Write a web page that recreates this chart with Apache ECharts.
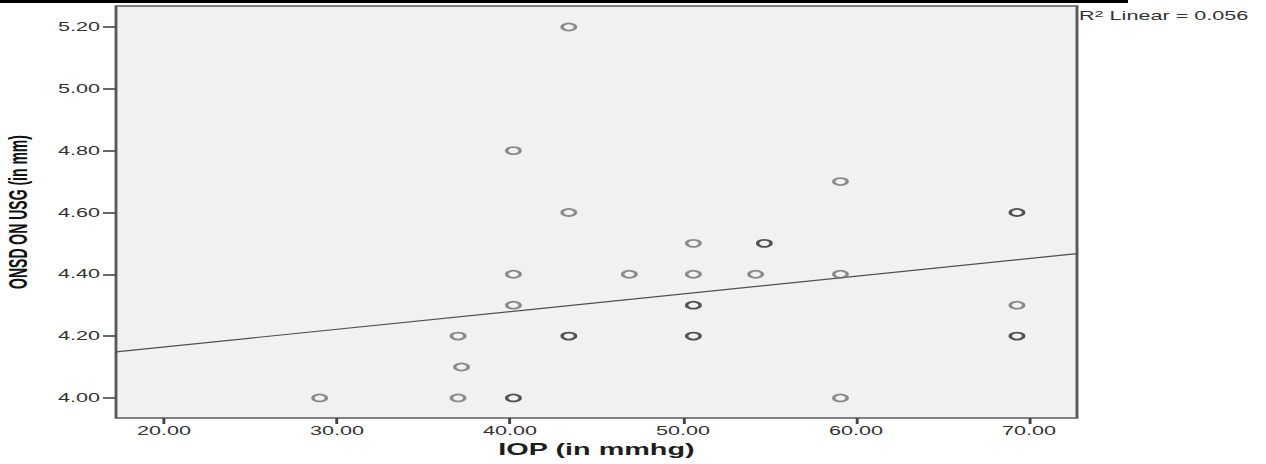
<!DOCTYPE html>
<html>
<head>
<meta charset="utf-8">
<script src="https://cdn.jsdelivr.net/npm/echarts@6/dist/echarts.min.js"></script>
<style>
  html, body { margin: 0; padding: 0; background: #fff; overflow: hidden; }
  /* the reference picture is stretched sideways, so the chart is drawn narrow and widened */
  #chart { width: 703px; height: 464px; transform: scaleX(1.80085); transform-origin: 0 0; }
</style>
</head>
<body>
<div id="chart"></div>
<script>
// ticks
const xTicks = [20, 30, 40, 50, 60, 70];
const yTicks = [4.0, 4.2, 4.4, 4.6, 4.8, 5.0, 5.2];

// single observations [IOP, ONSD]
const singlePoints = [
  [29.0, 4.0], [37.0, 4.2], [37.2, 4.1], [37.0, 4.0],
  [40.2, 4.8], [40.2, 4.4], [40.2, 4.3],
  [43.4, 5.2], [43.4, 4.6],
  [46.9, 4.4], [50.6, 4.5], [50.6, 4.4], [54.2, 4.4],
  [59.1, 4.7], [59.1, 4.4], [59.1, 4.0],
  [69.3, 4.3]
];
// overlapping observations (drawn darker)
const repeatedPoints = [
  [40.2, 4.0], [43.4, 4.2], [50.6, 4.3], [50.6, 4.2],
  [54.7, 4.5], [69.3, 4.6], [69.3, 4.2]
];
// fit line end points
const fitLine = [[17.23, 4.149], [72.77, 4.467]];

const S = 1266 / 703; // horizontal stretch

const chart = echarts.init(document.getElementById('chart'), null, { renderer: 'svg' });

const option = {
  backgroundColor: '#ffffff',
  animation: false,
  grid: {
    left: 116 / S, right: 189 / S, top: 6, bottom: 46,
    outerBoundsMode: 'none',
    show: true,
    backgroundColor: '#f1f1f1',
    borderColor: '#595959',
    borderWidth: 1.6
  },
  xAxis: {
    type: 'value',
    min: 17.23,
    max: 72.77,
    name: 'IOP (in mmhg)',
    nameLocation: 'middle',
    nameGap: 22,
    nameTextStyle: { fontFamily: 'Liberation Sans', fontWeight: 'bold', fontSize: 16, color: '#1e1e1e' },
    axisLine: { show: false },
    splitLine: { show: false },
    axisTick: { show: true, length: 6, customValues: xTicks, lineStyle: { color: '#444', width: 1.6 } },
    axisLabel: {
      customValues: xTicks,
      formatter: v => v.toFixed(2),
      fontFamily: 'Liberation Sans', fontSize: 12, color: '#333', margin: 7
    }
  },
  yAxis: {
    type: 'value',
    min: 3.935,
    max: 5.268,
    name: 'ONSD ON USG (in mm)',
    nameLocation: 'middle',
    nameGap: 47,
    nameTextStyle: { fontFamily: 'Liberation Sans', fontWeight: 'bold', fontSize: 14, color: '#111' },
    axisLine: { show: false },
    splitLine: { show: false },
    axisTick: { show: true, length: 13 / S, customValues: yTicks, lineStyle: { color: '#444', width: 1.6 } },
    axisLabel: {
      customValues: yTicks,
      formatter: v => v.toFixed(2),
      fontFamily: 'Liberation Sans', fontSize: 12, color: '#333', margin: 16 / S
    }
  },
  series: [
    {
      type: 'line',
      data: fitLine,
      symbol: 'none',
      lineStyle: { color: '#505050', width: 1.2 },
      z: 2,
      silent: true
    },
    {
      type: 'scatter',
      data: singlePoints,
      symbol: 'circle',
      symbolSize: [7.5, 7],
      itemStyle: { color: 'rgba(0,0,0,0)', borderColor: '#707070', borderWidth: 1.8 },
      z: 3
    },
    {
      type: 'scatter',
      data: repeatedPoints,
      symbol: 'circle',
      symbolSize: [7.5, 7],
      itemStyle: { color: 'rgba(0,0,0,0)', borderColor: '#2a2a2a', borderWidth: 1.8 },
      z: 4
    }
  ],
  graphic: [
    { type: 'rect', x: 0, y: 0, shape: { width: 1128 / S, height: 3 }, style: { fill: '#000' } },
    {
      type: 'text', x: 1079 / S, y: 9,
      style: {
        text: '{b|R}{s|2}{b| Linear = 0.056}',
        rich: {
          b: { fontFamily: 'Liberation Sans', fontSize: 12, fill: '#333' },
          s: { fontFamily: 'Liberation Sans', fontSize: 9, fill: '#333', verticalAlign: 'top', padding: [0, 0, 4, 0] }
        }
      }
    }
  ]
};

chart.setOption(option);
</script>
</body>
</html>
